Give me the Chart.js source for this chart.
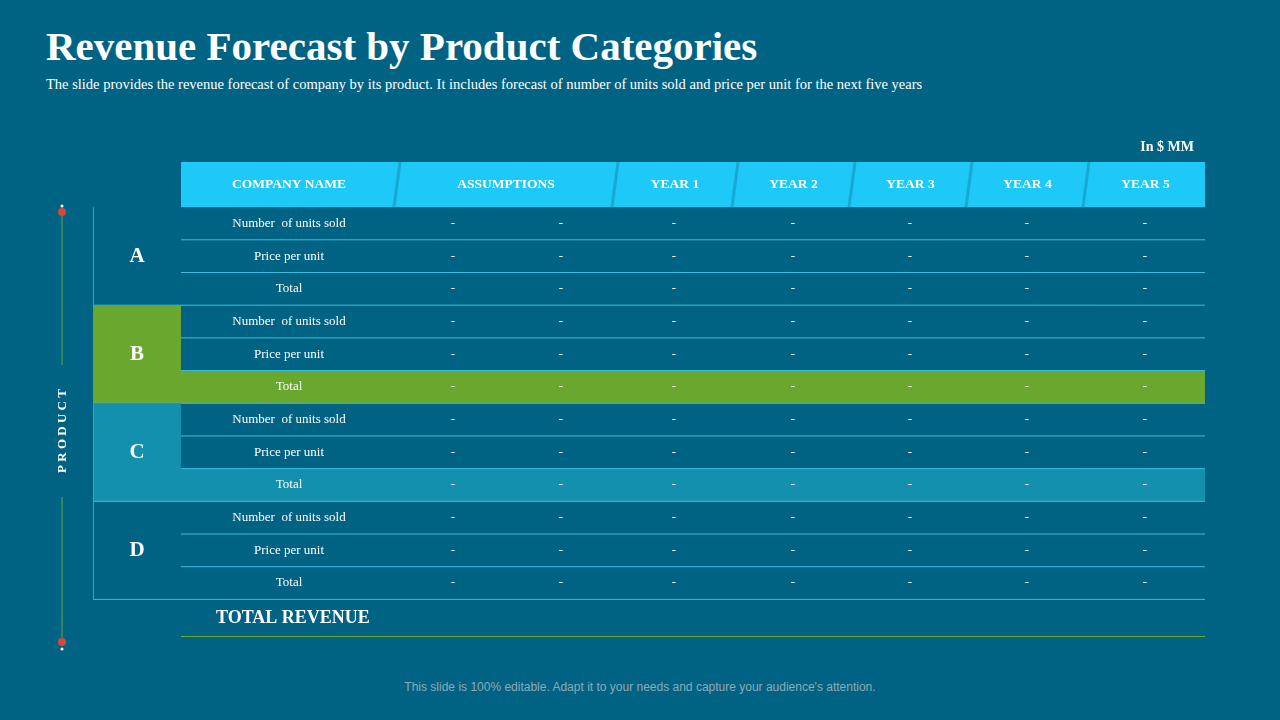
<!DOCTYPE html>
<html><head><meta charset="utf-8">
<script src="https://cdn.jsdelivr.net/npm/chart.js@4"></script>
<style>
html,body{margin:0;padding:0;background:#006384;width:1280px;height:720px;overflow:hidden;position:relative;font-family:"Liberation Serif",serif;color:#fff}
#t{position:absolute;left:46px;top:22px;font-size:41px;font-weight:bold;margin:0}
#s{position:absolute;left:46px;top:76px;font-size:14.5px}
#f{position:absolute;left:0;width:1280px;top:680px;text-align:center;font-family:"Liberation Sans",sans-serif;font-size:12px;color:#8fa9b5}
canvas{position:absolute;left:0;top:0}
</style></head><body>
<h1 id="t">Revenue Forecast by Product Categories</h1>
<div id="s">The slide provides the revenue forecast of company by its product. It includes forecast of number of units sold and price per unit for the next five years</div>
<div id="f">This slide is 100% editable. Adapt it to your needs and capture your audience's attention.</div>
<canvas id="c" width="1280" height="720"></canvas>
<script>
const headers = ['COMPANY NAME','ASSUMPTIONS','YEAR 1','YEAR 2','YEAR 3','YEAR 4','YEAR 5'];
const groups = ['A','B','C','D'];
const metrics = ['Number  of units sold','Price per unit','Total'];
// values per group: [assumption1, assumption2, y1..y5] per metric
const valuesA = [['-','-','-','-','-','-','-'],['-','-','-','-','-','-','-'],['-','-','-','-','-','-','-']];
const valuesB = [['-','-','-','-','-','-','-'],['-','-','-','-','-','-','-'],['-','-','-','-','-','-','-']];
const valuesC = [['-','-','-','-','-','-','-'],['-','-','-','-','-','-','-'],['-','-','-','-','-','-','-']];
const valuesD = [['-','-','-','-','-','-','-'],['-','-','-','-','-','-','-'],['-','-','-','-','-','-','-']];
const totalLabel = 'TOTAL REVENUE';
const unitLabel = 'In $ MM';

const allValues=[valuesA,valuesB,valuesC,valuesD];
// layout (column edges in scale units, x: 0..1112)
const colEdges=[0,88,304,522,642,759,876,993,1112];
const valueX=[360,468,581,700,817,934,1052];
const HDR=1.38, TOT=1.15;
const groupFill=[null,'#6aa72e','#1390ad',null];

const tablePlugin={id:'table',afterDatasetsDraw(ch){
  const c=ch.ctx,X=ch.scales.x,Y=ch.scales.y;
  const px=v=>X.getPixelForValue(v), py=v=>Y.getPixelForValue(v);
  c.save();
  // header
  c.fillStyle='#1ec8f7';
  c.fillRect(px(colEdges[1]),py(0),px(colEdges[8])-px(colEdges[1]),py(HDR)-py(0));
  c.strokeStyle='#17a9d4';c.lineWidth=3;
  for(let i=2;i<8;i++){c.beginPath();c.moveTo(px(colEdges[i])+3,py(0));c.lineTo(px(colEdges[i])-3,py(HDR));c.stroke();}
  c.fillStyle='#fff';c.font='bold 13.5px "Liberation Serif"';c.textAlign='center';c.textBaseline='middle';
  headers.forEach((h,i)=>c.fillText(h,(px(colEdges[i+1])+px(colEdges[i+2]))/2,py(HDR/2)));
  // groups
  groups.forEach((g,gi)=>{
    const y0=HDR+gi*3;
    if(groupFill[gi]){c.fillStyle=groupFill[gi];
      c.fillRect(px(0),py(y0),px(colEdges[1])-px(0),py(y0+3)-py(y0));
      c.fillRect(px(colEdges[1]),py(y0+2),px(colEdges[8])-px(colEdges[1]),py(y0+3)-py(y0+2));}
    c.fillStyle='#fff';c.font='bold 21px "Liberation Serif"';
    c.fillText(g,px(colEdges[1]/2),py(y0+1.5));
    metrics.forEach((m,mi)=>{
      const yc=py(y0+mi+0.5);
      c.font='13px "Liberation Serif"';c.fillText(m,(px(colEdges[1])+px(colEdges[2]))/2,yc);
      allValues[gi][mi].forEach((v,vi)=>c.fillText(v,px(valueX[vi]),yc));
      c.strokeStyle='#3cbde0';c.lineWidth=1;c.beginPath();
      const yl=py(y0+mi+1);c.moveTo(px(colEdges[mi==2?0:1]),yl);c.lineTo(px(colEdges[8]),yl);c.stroke();
    });
  });
  // left green border
  c.strokeStyle='#6aa72e';c.lineWidth=1;c.beginPath();c.moveTo(px(0)+0.5,py(HDR));c.lineTo(px(0)+0.5,py(HDR+12));c.stroke();
  // total revenue
  c.font='bold 18px "Liberation Serif"';c.textAlign='left';
  c.fillText(totalLabel,px(colEdges[1])+35,py(HDR+12+TOT/2));
  c.strokeStyle='#6aa72e';c.beginPath();c.moveTo(px(colEdges[1]),py(HDR+12+TOT)-0.5);c.lineTo(px(colEdges[8]),py(HDR+12+TOT)-0.5);c.stroke();
  // unit label
  c.textAlign='right';c.font='bold 14px "Liberation Serif"';c.fillText(unitLabel,px(colEdges[8])-11,147);
  // product side
  c.strokeStyle='#6aa72e';c.beginPath();c.moveTo(62,212);c.lineTo(62,365);c.moveTo(62,497);c.lineTo(62,642);c.stroke();
  c.fillStyle='#d9473a';[212,642].forEach(y=>{c.beginPath();c.arc(62,y,4,0,7);c.fill();});
  c.fillStyle='#fff';[206,649].forEach(y=>{c.beginPath();c.arc(62,y,1.5,0,7);c.fill();});
  c.translate(63,431);c.rotate(-Math.PI/2);c.textAlign='center';c.font='bold 13px "Liberation Serif"';
  c.fillText('P R O D U C T',0,0);
  c.restore();
}};
new Chart(document.getElementById('c'),{type:'scatter',
  data:{datasets:[{data:[],pointRadius:0}]},
  options:{responsive:false,animation:false,events:[],
    layout:{padding:{left:93,right:75,top:162,bottom:83}},
    plugins:{legend:{display:false},tooltip:{enabled:false}},
    scales:{x:{type:'linear',min:0,max:1112,display:false},
            y:{type:'linear',min:0,max:HDR+12+TOT,reverse:true,display:false}}},
  plugins:[tablePlugin]});
</script></body></html>
